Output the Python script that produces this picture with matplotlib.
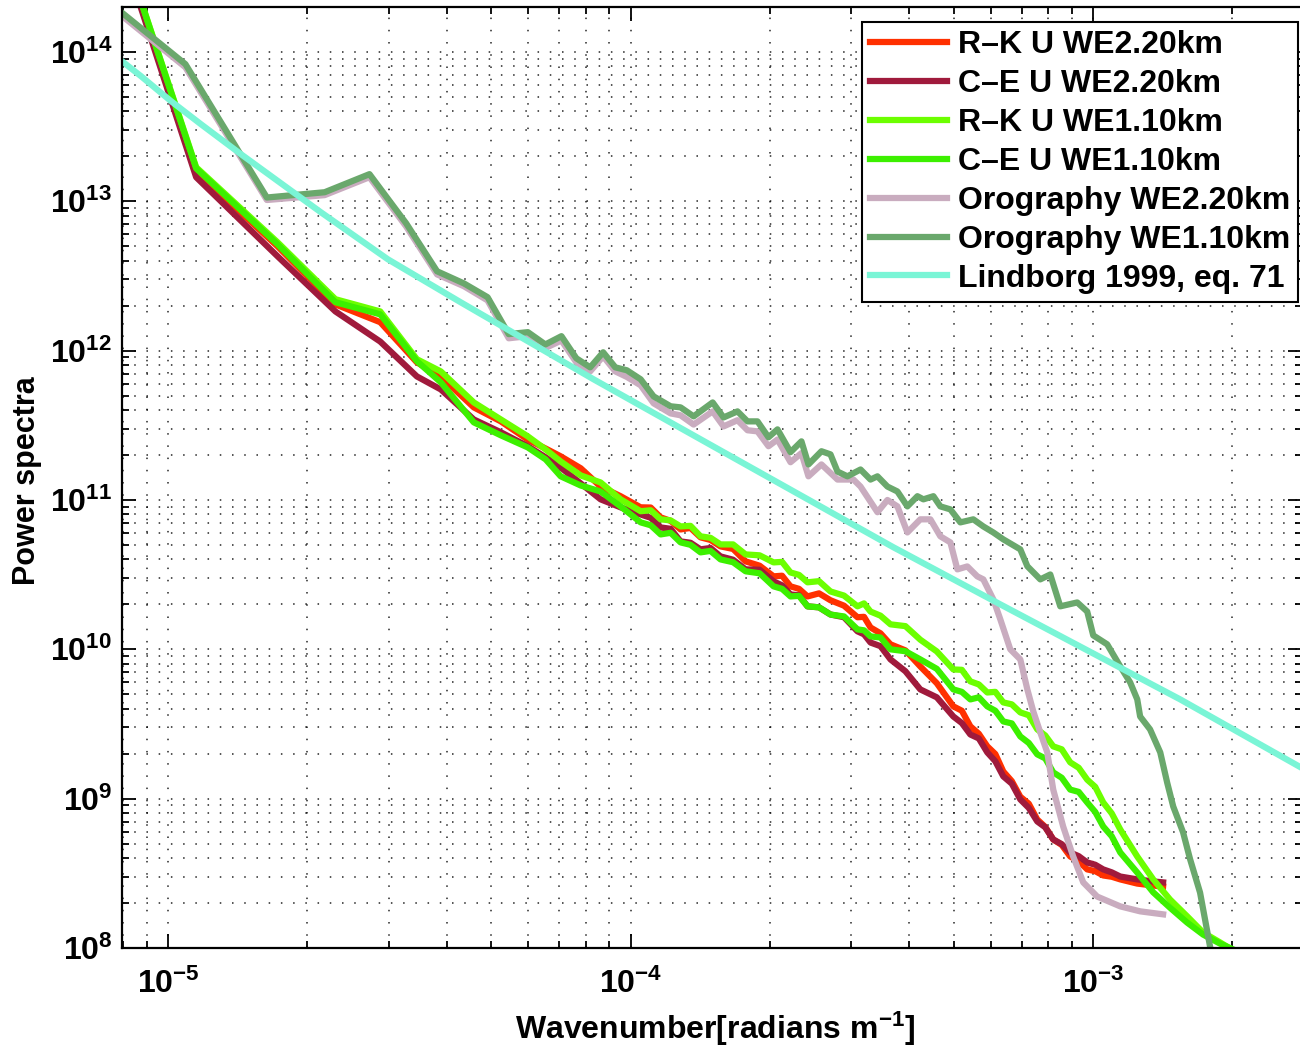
import matplotlib
matplotlib.use("Agg")
import matplotlib.pyplot as plt
from matplotlib.ticker import LogLocator, NullFormatter

# wavenumbers [rad/m] and spectra
k_we22 = [5.75e-6, 1.15e-5, 1.725e-5, 2.3e-5, 2.875e-5, 3.45e-5, 3.886e-5, 4.58e-5, 5.24e-5,
          5.99e-5, 6.55e-5, 7.06e-5, 7.80e-5, 8.61e-5, 9.51e-5, 1.051e-4, 1.161e-4, 1.282e-4,
          1.416e-4, 1.564e-4, 1.772e-4, 2.037e-4, 2.216e-4, 2.412e-4, 2.704e-4, 3.093e-4,
          3.300e-4, 3.645e-4, 4.228e-4, 4.984e-4, 5.424e-4, 5.902e-4, 6.391e-4, 6.956e-4,
          7.568e-4, 8.195e-4, 8.918e-4, 9.705e-4, 1.051e-3, 1.144e-3, 1.245e-3, 1.348e-3, 1.416e-3]
rk_we22 = [1.05e16, 1.59e13, 4.99e12, 2.04e12, 1.55e12, 8.35e11, 6.72e11, 4.17e11, 3.36e11,
           2.54e11, 2.21e11, 1.96e11, 1.63e11, 1.23e11, 1.06e11, 8.93e10, 7.65e10, 6.35e10,
           5.62e10, 4.89e10, 3.88e10, 3.08e10, 2.64e10, 2.26e10, 2.13e10, 1.64e10,
           1.40e10, 1.08e10, 7.68e9, 4.15e9, 3.05e9, 2.24e9, 1.52e9, 1.03e9,
           7.25e8, 5.33e8, 4.10e8, 3.36e8, 3.06e8, 2.88e8, 2.70e8, 2.62e8, 2.58e8]
ce_we22 = [1.05e16, 1.45e13, 4.28e12, 1.83e12, 1.15e12, 6.72e11, 5.5e11, 3.46e11, 2.84e11,
           2.29e11, 1.93e11, 1.65e11, 1.29e11, 1.01e11, 8.93e10, 8.0e10, 6.55e10, 5.28e10,
           4.67e10, 4.19e10, 3.43e10, 2.85e10, 2.33e10, 1.94e10, 1.71e10, 1.32e10,
           1.11e10, 8.56e9, 5.39e9, 3.55e9, 2.69e9, 2.04e9, 1.41e9, 9.88e8,
           7.04e8, 5.33e8, 4.36e8, 3.74e8, 3.36e8, 3.01e8, 2.88e8, 2.79e8, 2.75e8]

k_we11 = [5.75e-6, 1.15e-5, 1.725e-5, 2.3e-5, 2.875e-5, 3.45e-5, 3.886e-5, 4.58e-5, 5.24e-5,
          5.99e-5, 6.55e-5, 7.06e-5, 7.80e-5, 8.61e-5, 9.51e-5, 1.051e-4, 1.161e-4, 1.282e-4,
          1.416e-4, 1.564e-4, 1.772e-4, 2.037e-4, 2.216e-4, 2.412e-4, 2.704e-4, 3.093e-4,
          3.300e-4, 3.645e-4, 4.228e-4, 4.984e-4, 5.424e-4, 5.902e-4, 6.391e-4, 6.956e-4,
          7.568e-4, 8.195e-4, 8.918e-4, 9.705e-4, 1.051e-3, 1.144e-3, 1.245e-3, 1.348e-3,
          1.466e-3, 1.596e-3, 1.728e-3, 1.880e-3, 2.077e-3]
rk_we11 = [1.1e16, 1.69e13, 5.31e12, 2.21e12, 1.83e12, 8.76e11, 7.26e11, 4.50e11, 3.46e11,
           2.67e11, 2.18e11, 1.81e11, 1.46e11, 1.31e11, 1.01e11, 8.41e10, 7.42e10, 6.65e10,
           5.71e10, 5.04e10, 4.32e10, 3.82e10, 3.27e10, 2.81e10, 2.44e10, 1.94e10,
           1.79e10, 1.47e10, 1.16e10, 7.33e9, 6.1e9, 5.14e9, 4.41e9, 3.78e9,
           2.91e9, 2.24e9, 1.75e9, 1.34e9, 9.43e8, 6.22e8, 4.10e8, 2.88e8,
           2.11e8, 1.63e8, 1.27e8, 1.09e8, 9.05e7]
ce_we11 = [1.1e16, 1.66e13, 5.15e12, 2.11e12, 1.75e12, 8.5e11, 6.14e11, 3.31e11, 2.71e11,
           2.25e11, 1.87e11, 1.44e11, 1.25e11, 1.14e11, 9.06e10, 7.08e10, 5.88e10, 5.2e10,
           4.46e10, 4.0e10, 3.33e10, 2.64e10, 2.26e10, 1.94e10, 1.71e10, 1.36e10,
           1.22e10, 1.0e10, 8.56e9, 5.39e9, 4.62e9, 4.15e9, 3.29e9, 2.61e9,
           1.98e9, 1.5e9, 1.15e9, 9.43e8, 6.51e8, 4.36e8, 3.2e8, 2.36e8,
           1.86e8, 1.48e8, 1.23e8, 1.07e8, 9.33e7]

# extra in-between samples (the jagged texture at high wavenumber)
k_jag = [1.105e-4, 1.220e-4, 1.347e-4, 1.488e-4, 1.665e-4, 1.900e-4, 2.125e-4, 2.312e-4,
         2.554e-4, 2.892e-4, 3.195e-4, 3.468e-4, 3.926e-4, 4.590e-4, 5.199e-4, 5.658e-4,
         6.142e-4, 6.668e-4, 7.256e-4, 7.875e-4, 8.549e-4, 9.303e-4, 1.010e-3, 1.0965e-3]
rk_we22_jag = [8.9e10, 7.25e10, 6.5e10, 5.4e10, 4.7e10, 3.63e10, 3.11e10, 2.54e10,
               2.37e10, 1.96e10, 1.65e10, 1.28e10, 9.84e9, 5.93e9, 3.88e9, 2.72e9,
               1.99e9, 1.31e9, 9.25e8, 6.47e8, 4.9e8, 3.82e8, 3.27e8, 3.0e8]
ce_we22_jag = [7.6e10, 6.41e10, 5.17e10, 4.77e10, 3.98e10, 3.41e10, 2.68e10, 2.3e10,
               1.91e10, 1.64e10, 1.26e10, 1.05e10, 7.13e9, 4.77e9, 3.21e9, 2.53e9,
               1.78e9, 1.26e9, 8.67e8, 6.43e8, 4.96e8, 4.12e8, 3.61e8, 3.21e8]
rk_we11_jag = [8.53e10, 7.3e10, 6.71e10, 5.58e10, 5.04e10, 4.26e10, 3.85e10, 3.15e10,
               2.86e10, 2.29e10, 2.03e10, 1.68e10, 1.43e10, 9.68e9, 7.29e9, 5.82e9,
               5.19e9, 4.28e9, 3.62e9, 2.65e9, 2.14e9, 1.61e9, 1.2e9, 7.97e8]
ce_we11_jag = [6.77e10, 6.03e10, 5.01e10, 4.56e10, 3.83e10, 3.23e10, 2.54e10, 2.28e10,
               1.91e10, 1.66e10, 1.34e10, 1.2e10, 9.71e9, 7.4e9, 5.19e9, 4.77e9,
               3.88e9, 3.19e9, 2.36e9, 1.86e9, 1.38e9, 1.11e9, 8.15e8, 5.6e8]

k_oro22 = [5.45e-6, 1.09e-5, 1.635e-5, 2.18e-5, 2.725e-5, 3.27e-5, 3.815e-5, 4.36e-5, 4.905e-5,
           5.45e-5, 5.995e-5, 6.54e-5, 7.085e-5, 7.63e-5, 8.175e-5, 8.72e-5, 9.265e-5, 9.81e-5,
           1.051e-4, 1.121e-4, 1.220e-4, 1.282e-4, 1.368e-4, 1.504e-4, 1.588e-4, 1.702e-4,
           1.789e-4, 1.880e-4, 1.986e-4, 2.077e-4, 2.216e-4, 2.34e-4, 2.423e-4, 2.585e-4,
           2.80e-4, 3.031e-4, 3.14e-4, 3.416e-4, 3.59e-4, 3.773e-4, 3.965e-4, 4.228e-4,
           4.446e-4, 4.672e-4, 4.911e-4, 5.085e-4, 5.343e-4, 5.615e-4, 5.786e-4, 6.081e-4,
           6.296e-4, 6.617e-4, 6.956e-4, 7.204e-4, 7.42e-4, 7.683e-4, 7.955e-4, 8.195e-4,
           8.61e-4, 9.05e-4, 9.515e-4, 1.02e-3, 1.144e-3, 1.263e-3, 1.416e-3]
oro22 = [4.5e14, 7.9e13, 1.02e13, 1.10e13, 1.45e13, 6.79e12, 3.24e12, 2.7e12, 2.17e12,
         1.21e12, 1.25e12, 1.04e12, 1.17e12, 8.35e11, 7.26e11, 9.16e11, 7.26e11, 6.67e11,
         5.86e11, 4.44e11, 3.8e11, 3.69e11, 3.2e11, 3.92e11, 3.11e11, 3.42e11,
         2.93e11, 2.88e11, 2.29e11, 2.54e11, 1.79e11, 2.06e11, 1.44e11, 1.73e11,
         1.37e11, 1.37e11, 1.23e11, 8.28e10, 1.0e11, 9.06e10, 6.06e10, 7.42e10,
         7.42e10, 5.71e10, 5.2e10, 3.43e10, 3.59e10, 3.08e10, 2.94e10, 2.16e10,
         1.59e10, 1.0e10, 8.56e9, 5.39e9, 3.84e9, 2.78e9, 2.04e9, 1.15e9,
         6.51e8, 4.10e8, 2.75e8, 2.21e8, 1.9e8, 1.76e8, 1.68e8]

k_oro11 = [5.45e-6, 1.09e-5, 1.635e-5, 2.18e-5, 2.725e-5, 3.27e-5, 3.815e-5, 4.36e-5, 4.905e-5,
           5.45e-5, 5.995e-5, 6.54e-5, 7.085e-5, 7.63e-5, 8.175e-5, 8.72e-5, 9.265e-5, 9.81e-5,
           1.051e-4, 1.121e-4, 1.220e-4, 1.282e-4, 1.368e-4, 1.504e-4, 1.588e-4, 1.702e-4,
           1.789e-4, 1.880e-4, 1.986e-4, 2.077e-4, 2.216e-4, 2.34e-4, 2.423e-4, 2.585e-4,
           2.704e-4, 2.80e-4, 2.942e-4, 3.14e-4, 3.30e-4, 3.416e-4, 3.59e-4, 3.773e-4,
           3.965e-4, 4.168e-4, 4.294e-4, 4.513e-4, 4.672e-4, 4.911e-4, 5.161e-4, 5.505e-4,
           5.786e-4, 6.081e-4, 6.391e-4, 6.956e-4, 7.204e-4, 7.683e-4, 8.075e-4, 8.487e-4,
           9.235e-4, 9.705e-4, 1.0e-3, 1.072e-3, 1.144e-3, 1.202e-3, 1.245e-3, 1.263e-3,
           1.327e-3, 1.396e-3, 1.445e-3, 1.489e-3, 1.564e-3, 1.62e-3, 1.702e-3, 1.789e-3, 1.86e-3]
oro11 = [4.73e14, 8.29e13, 1.06e13, 1.15e13, 1.52e13, 7.13e12, 3.40e12, 2.82e12, 2.28e12,
         1.29e12, 1.33e12, 1.10e12, 1.25e12, 8.89e11, 7.73e11, 9.75e11, 7.73e11, 7.39e11,
         6.43e11, 4.94e11, 4.24e11, 4.17e11, 3.63e11, 4.5e11, 3.57e11, 3.92e11,
         3.36e11, 3.36e11, 2.63e11, 2.97e11, 2.09e11, 2.47e11, 1.73e11, 2.12e11,
         2.02e11, 1.55e11, 1.44e11, 1.60e11, 1.37e11, 1.44e11, 1.23e11, 1.14e11,
         9.06e10, 1.06e11, 1.01e11, 1.06e11, 9.06e10, 8.65e10, 7.08e10, 7.42e10,
         6.65e10, 6.06e10, 5.45e10, 4.67e10, 3.6e10, 2.94e10, 3.17e10, 1.94e10,
         2.06e10, 1.79e10, 1.24e10, 1.08e10, 7.68e9, 6.0e9, 4.62e9, 3.55e9,
         2.91e9, 2.04e9, 1.28e9, 8.87e8, 5.95e8, 3.92e8, 2.35e8, 1.02e8, 6.65e7]

k_lind = [7.9e-6, 8.74e-6, 1.015e-5, 1.178e-5, 1.438e-5, 1.754e-5, 2.14e-5, 2.986e-5,
          4.293e-5, 8.32e-5, 1.416e-4, 3.70e-4, 6.296e-4, 1.542e-3, 2.83e-3]
lind = [8.8e13, 6.88e13, 4.68e13, 3.28e13, 2.065e13, 1.32e13, 8.44e12, 4.09e12,
        2.106e12, 6.42e11, 2.55e11, 4.82e10, 2.0e10, 4.62e9, 1.60e9]

x_ticks = [1e-5, 1e-4, 1e-3]
y_ticks = [1e8, 1e9, 1e10, 1e11, 1e12, 1e13, 1e14]


def with_jag(k, p, kj, pj):
    pts = sorted(zip(list(k) + list(kj), list(p) + list(pj)))
    return [a for a, b in pts], [b for a, b in pts]


plt.rcParams["font.family"] = ["Liberation Sans", "DejaVu Sans"]
plt.rcParams["font.weight"] = "bold"
plt.rcParams["mathtext.fontset"] = "custom"
plt.rcParams["mathtext.rm"] = "Liberation Sans:bold"
plt.rcParams["mathtext.it"] = "Liberation Sans:bold"
plt.rcParams["mathtext.bf"] = "Liberation Sans:bold"
plt.rcParams["mathtext.default"] = "bf"

fig = plt.figure(figsize=(13, 10.48), dpi=100)
# right edge of the axes sits just past the picture edge, as in the original
ax = fig.add_axes([122 / 1300, 100 / 1048, 1180 / 1300, 941 / 1048])

lw = 4.5
ax.plot(*with_jag(k_we22, rk_we22, k_jag, rk_we22_jag), color="#ff3000", lw=lw,
        label="R\u2013K U WE2.20km")
ax.plot(*with_jag(k_we22, ce_we22, k_jag, ce_we22_jag), color="#a01a3c", lw=lw,
        label="C\u2013E U WE2.20km")
ax.plot(*with_jag(k_we11, rk_we11, k_jag, rk_we11_jag), color="#6cff00", lw=lw,
        label="R\u2013K U WE1.10km")
ax.plot(*with_jag(k_we11, ce_we11, k_jag, ce_we11_jag), color="#3cf000", lw=lw,
        label="C\u2013E U WE1.10km")
ax.plot(k_oro22, oro22, color="#c9acbf", lw=lw, label="Orography WE2.20km")
ax.plot(k_oro11, oro11, color="#6aa86c", lw=lw, label="Orography WE1.10km")
ax.plot(k_lind, lind, color="#7af5d6", lw=lw, label="Lindborg 1999, eq. 71")

ax.set_xscale("log")
ax.set_yscale("log")
ax.set_xlim(7.95e-6, 2.827e-3)
ax.set_ylim(1e8, 2.0e14)
ax.set_xticks(x_ticks)
ax.set_yticks(y_ticks)
ax.xaxis.set_minor_locator(LogLocator(base=10, subs=range(2, 10), numticks=20))
ax.yaxis.set_minor_locator(LogLocator(base=10, subs=range(2, 10), numticks=20))
ax.xaxis.set_minor_formatter(NullFormatter())
ax.yaxis.set_minor_formatter(NullFormatter())

ax.grid(True, which="both", color="black", linestyle=(0, (1, 7)), linewidth=1.1,
        alpha=0.85)
ax.tick_params(which="both", direction="in", top=True, right=True, width=1.3,
               labelsize=23)
ax.tick_params(which="major", length=10)
ax.tick_params(which="minor", length=5)
ax.tick_params(axis="x", pad=15)
ax.tick_params(axis="y", pad=7)
for s in ax.spines.values():
    s.set_linewidth(1.6)

ax.set_xlabel("Wavenumber[radians m$^{-1}$]", fontsize=23, fontweight="bold")
ax.set_ylabel("Power spectra", fontsize=22, fontweight="bold")
ax.xaxis.set_label_coords(0.503, -0.066)
ax.yaxis.set_label_coords(-0.068, 0.497)

leg = ax.legend(loc="upper right", bbox_to_anchor=(1298 / 1300, 1026 / 1048),
                bbox_transform=fig.transFigure, fontsize=23, fancybox=False,
                edgecolor="black", framealpha=1, borderaxespad=0, labelspacing=0.28,
                handlelength=2.4, handletextpad=0.35, borderpad=0.25)
leg.get_frame().set_linewidth(1.5)

fig.savefig("out.png", dpi=100)
